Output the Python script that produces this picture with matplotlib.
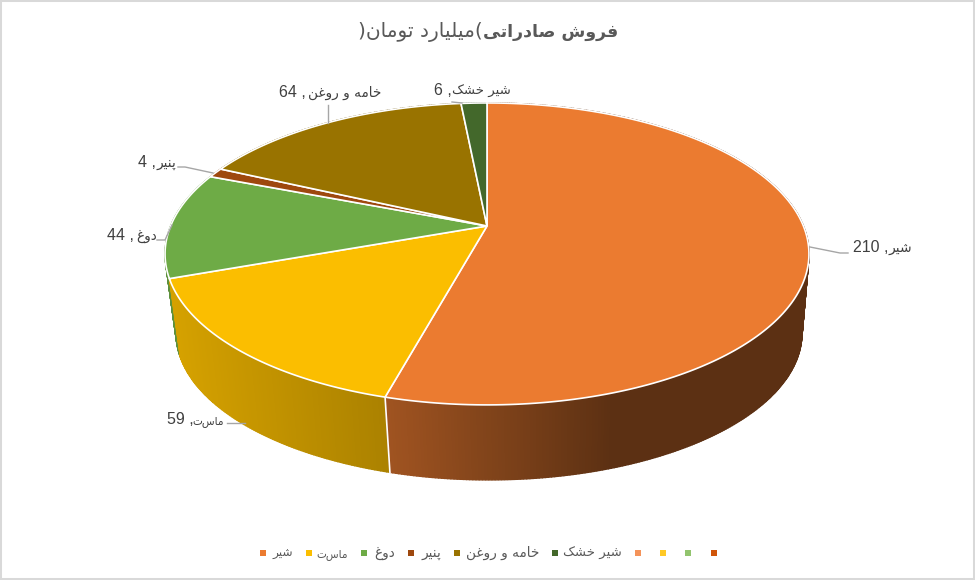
import numpy as np
import matplotlib
matplotlib.use("Agg")
import matplotlib.pyplot as plt

categories = ["شیر", "ماست", "دوغ", "پنیر", "خامه و روغن", "شیر خشک"]
values = [210, 59, 44, 4, 64, 6]
colors = ["#EB7B30", "#FBBE00", "#6EAB46", "#9E480E", "#997300", "#43682B"]
legend_extra = ["#F4935A", "#FFC926", "#92C46E", "#D0550A"]
title_bold = "فروش صادراتی"
title_light = "(میلیارد تومان)"

# presentation forms: isolated, final, initial, medial
FORMS = {
    "ا": (0xFE8D, 0xFE8E), "د": (0xFEA9, 0xFEAA), "ر": (0xFEAD, 0xFEAE), "و": (0xFEED, 0xFEEE),
    "پ": (0xFB56, 0xFB57, 0xFB58, 0xFB59), "ت": (0xFE95, 0xFE96, 0xFE97, 0xFE98),
    "خ": (0xFEA5, 0xFEA6, 0xFEA7, 0xFEA8), "ش": (0xFEB5, 0xFEB6, 0xFEB7, 0xFEB8),
    "ص": (0xFEB9, 0xFEBA, 0xFEBB, 0xFEBC), "غ": (0xFECD, 0xFECE, 0xFECF, 0xFED0),
    "ف": (0xFED1, 0xFED2, 0xFED3, 0xFED4), "ک": (0xFB8E, 0xFB8F, 0xFB90, 0xFB91),
    "ل": (0xFEDD, 0xFEDE, 0xFEDF, 0xFEE0), "م": (0xFEE1, 0xFEE2, 0xFEE3, 0xFEE4),
    "ن": (0xFEE5, 0xFEE6, 0xFEE7, 0xFEE8), "ه": (0xFEE9, 0xFEEA, 0xFEEB, 0xFEEC),
    "ی": (0xFBFC, 0xFBFD, 0xFBFE, 0xFBFF),
}

def shape(s):
    # matplotlib has no arabic shaping, so join letters by hand and reverse
    out = []
    for i, ch in enumerate(s):
        if ch not in FORMS:
            out.append(ch)
            continue
        f = FORMS[ch]
        prev = s[i - 1] if i > 0 else " "
        nxt = s[i + 1] if i < len(s) - 1 else " "
        before = prev in FORMS and len(FORMS[prev]) == 4
        after = nxt in FORMS and len(f) == 4
        if before and after:
            out.append(chr(f[3]))
        elif before:
            out.append(chr(f[1]))
        elif after:
            out.append(chr(f[2]))
        else:
            out.append(chr(f[0]))
    return "".join(out[::-1])

# perspective of the disc, in pixels of the picture
CX, CY = 487, 226
R, B, K = 316.4, 145.8, 0.185
CX2, CY2, S2 = 489, 306, 0.972
GREY = "#595959"

def top(theta):
    w = 1 + K * np.cos(theta)
    return CX + R * np.sin(theta) / w, CY - B * np.cos(theta) / w

def bottom(theta):
    w = 1 + K * np.cos(theta)
    return CX2 + S2 * R * np.sin(theta) / w, CY2 - S2 * B * np.cos(theta) / w

def shade(x):
    return np.interp(x, [170, 388, 613, 810], [0.85, 0.68, 0.39, 0.39])

fig = plt.figure(figsize=(9.75, 5.8), dpi=100)
ax = fig.add_axes([0, 0, 1, 1])
ax.set_xlim(0, 975)
ax.set_ylim(580, 0)
ax.axis("off")

edges = np.radians(np.concatenate([[0], np.cumsum(values)]) / sum(values) * 360)

# side wall, back to front
quads = []
for k in range(len(values)):
    n = max(2, int((edges[k + 1] - edges[k]) * 120))
    t = np.linspace(edges[k], edges[k + 1], n)
    for a, b in zip(t[:-1], t[1:]):
        quads.append(((a + b) / 2, a, b, colors[k]))
quads.sort(key=lambda q: -np.cos(q[0]))
for mid, a, b, c in quads:
    xa, ya = top(a)
    xb, yb = top(b)
    xc, yc = bottom(b)
    xd, yd = bottom(a)
    col = np.array(matplotlib.colors.to_rgb(c)) * shade((xa + xb) / 2)
    ax.fill([xa, xb, xc, xd], [ya, yb, yc, yd], color=col, lw=1.0, zorder=1)

# white seam on the wall between orange and yellow
ax.plot(*zip(top(edges[1]), bottom(edges[1])), color="white", lw=1.2, zorder=2)

# top of the pie
for k in range(len(values)):
    t = np.linspace(edges[k], edges[k + 1], 200)
    x, y = top(t)
    ax.fill(np.r_[CX, x], np.r_[CY, y], facecolor=colors[k], edgecolor="white", lw=1.2, zorder=3)

# data labels
name_right = [912, 224, 157, 176, 381, 511]
value_left = [853, 167, 107, 138, 279, 434]
label_y = [252, 424, 240, 167, 97, 95]
label_size = [10, 7.6, 9.8, 9.8, 9.8, 9.5]
for k, name in enumerate(categories):
    ax.text(value_left[k], label_y[k], f"{values[k]} ,", family="Liberation Sans", fontsize=11.5,
            color="#404040", ha="left", va="baseline", zorder=5)
    ax.text(name_right[k], label_y[k], shape(name), family="DejaVu Sans", fontsize=label_size[k],
            color="#404040", ha="right", va="baseline", zorder=5)

# leader lines
leaders = [
    [(810, 247), (840, 253), (848, 253)],
    [(227, 423), (245, 423)],
    [(157, 240), (165, 240), (172, 225)],
    [(178, 167), (185, 167), (213, 173)],
    [(328, 105), (328, 123)],
    [(452, 102), (462, 103)],
]
for pts in leaders:
    ax.plot(*zip(*pts), color="#A6A6A6", lw=1, zorder=4)

# title
ax.text(483, 37, shape(title_bold), family="DejaVu Sans", fontsize=12.5, fontweight="bold",
        color=GREY, ha="left", va="baseline")
ax.text(483, 37, shape(title_light), family="DejaVu Sans", fontsize=14.5, color=GREY,
        ha="right", va="baseline")

# legend
legend_colors = colors + legend_extra
legend_x = [263, 309, 364, 411, 457, 555, 638, 663, 688, 714]
legend_names = categories + [""] * 4
legend_text_x = [293, 348, 395, 441, 539, 622]
legend_size = [8.8, 7.6, 9.8, 9.8, 9.8, 9.5]
for k, c in enumerate(legend_colors):
    ax.scatter([legend_x[k]], [553], marker="s", s=22, color=c, linewidths=0)
    if legend_names[k]:
        ax.text(legend_text_x[k], 557, shape(legend_names[k]), family="DejaVu Sans", fontsize=legend_size[k],
                color=GREY, ha="right", va="baseline")

# thin frame of the picture
fig.add_artist(plt.Rectangle((0, 0), 1, 1, transform=fig.transFigure, fill=False, ec="#D9D9D9", lw=2.9))
fig.savefig("out.png", dpi=100)
